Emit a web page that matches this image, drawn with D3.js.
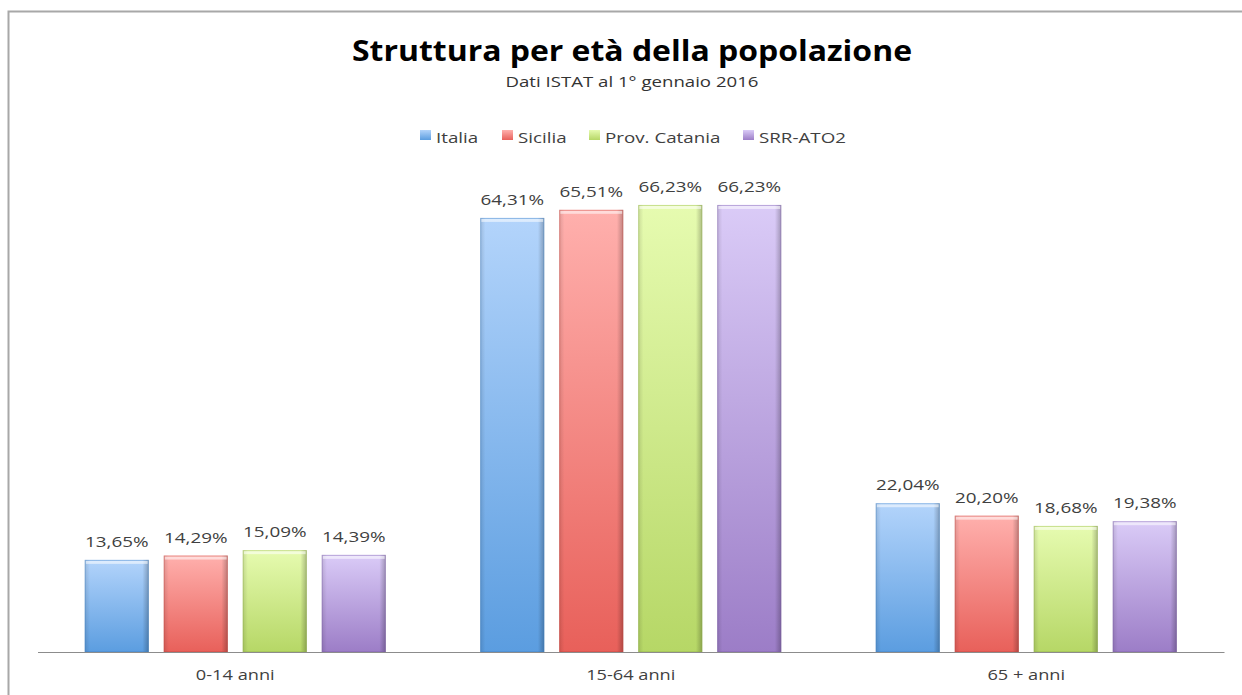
<!DOCTYPE html>
<html><head><meta charset="utf-8">
<script src="https://cdn.jsdelivr.net/npm/d3@7"></script>
<style>body{margin:0;background:#fff;} svg{display:block;}</style>
</head><body>
<svg id="c" width="1242" height="695"></svg>
<script>
const categories = ["0-14 anni", "15-64 anni", "65 + anni"];
const seriesNames = ["Italia", "Sicilia", "Prov. Catania", "SRR-ATO2"];
const italia = [13.65, 64.31, 22.04];
const sicilia = [14.29, 65.51, 20.20];
const catania = [15.09, 66.23, 18.68];
const ato2 = [14.39, 66.23, 19.38];
const seriesValues = [italia, sicilia, catania, ato2];
const topColors = ["#b3d4fb", "#ffb0ad", "#e6fbb0", "#dacbf7"];
const bottomColors = ["#5b9de0", "#e8605a", "#b6d766", "#9c7dc7"];
const edgeColors = ["#3f7fc0", "#c04540", "#8eae4a", "#7a5ea6"];

const svg = d3.select("#c");
const font = "'Open Sans', sans-serif";
function widen(sel, stretch) {
  sel.each(function () {
    const w = this.getComputedTextLength();
    d3.select(this).attr("textLength", w * stretch).attr("lengthAdjust", "spacingAndGlyphs");
  });
  return sel;
}
const defs = svg.append("defs");
seriesNames.forEach((s, i) => {
  const g = defs.append("linearGradient").attr("id", "g" + i).attr("x1", 0).attr("y1", 0).attr("x2", 0).attr("y2", 1);
  g.append("stop").attr("offset", "0%").attr("stop-color", topColors[i]);
  g.append("stop").attr("offset", "100%").attr("stop-color", bottomColors[i]);
});
const eg = defs.append("linearGradient").attr("id", "edge").attr("x1", 0).attr("y1", 0).attr("x2", 1).attr("y2", 0);
eg.append("stop").attr("offset", "0%").attr("stop-color", "#000").attr("stop-opacity", 0.12);
eg.append("stop").attr("offset", "8%").attr("stop-color", "#000").attr("stop-opacity", 0);
eg.append("stop").attr("offset", "90%").attr("stop-color", "#000").attr("stop-opacity", 0);
eg.append("stop").attr("offset", "100%").attr("stop-color", "#000").attr("stop-opacity", 0.25);

// frame
svg.append("path").attr("d", "M8.5,695 V11.5 H1242").attr("fill", "none").attr("stroke", "#a8a8a8").attr("stroke-width", 2);

const baseline = 652;
const x0 = d3.scaleBand().domain(categories).range([37.5, 1224]).paddingInner(0).paddingOuter(0);
const groupW = 301;
const x1 = d3.scaleBand().domain(seriesNames).range([0, groupW]).paddingInner(15 / 79).paddingOuter(0);
const y = d3.scaleLinear().domain([0, 70]).range([baseline, 179.5]);

// title
svg.append("text").attr("x", 632).attr("y", 61).attr("text-anchor", "middle")
  .attr("font-family", font).attr("font-weight", "bold").attr("font-size", 28).attr("fill", "#000")
  .attr("textLength", 560).attr("lengthAdjust", "spacingAndGlyphs")
  .text("Struttura per età della popolazione");
svg.append("text").attr("x", 632).attr("y", 87).attr("text-anchor", "middle")
  .attr("font-family", font).attr("font-size", 15).attr("fill", "#333")
  .attr("textLength", 253).attr("lengthAdjust", "spacingAndGlyphs")
  .text("Dati ISTAT al 1° gennaio 2016");

// legend
const legendX = [420, 502, 589, 743];
const lg = svg.append("g");
seriesNames.forEach((s, i) => {
  lg.append("rect").attr("x", legendX[i]).attr("y", 130).attr("width", 11).attr("height", 10).attr("fill", "url(#g" + i + ")");
  lg.append("text").attr("x", legendX[i] + 16).attr("y", 143).attr("font-family", font).attr("font-size", 15).attr("fill", "#404040").text(s).call(widen, 1.25);
});

// bars
categories.forEach((c, ci) => {
  const gx = x0(c) + (x0.bandwidth() - groupW) / 2;
  seriesNames.forEach((s, si) => {
    const v = seriesValues[si][ci];
    const bx = gx + x1(s), bw = x1.bandwidth(), by = y(v), bh = baseline - y(v);
    svg.append("rect").attr("x", bx).attr("y", by).attr("width", bw).attr("height", bh).attr("fill", "url(#g" + si + ")");
    svg.append("rect").attr("x", bx).attr("y", by).attr("width", bw).attr("height", bh).attr("fill", "url(#edge)");
    svg.append("rect").attr("x", bx + 1).attr("y", by + 1).attr("width", bw - 2).attr("height", 3).attr("fill", "#fff").attr("opacity", 0.55);
    svg.append("rect").attr("x", bx + 0.5).attr("y", by + 0.5).attr("width", bw - 1).attr("height", bh - 1).attr("fill", "none").attr("stroke", edgeColors[si]).attr("stroke-opacity", 0.35);
    svg.append("text").attr("x", bx + bw / 2).attr("y", by - 13).attr("text-anchor", "middle")
      .attr("font-family", font).attr("font-size", 14.5).attr("fill", "#404040")
      .text(v.toFixed(2).replace(".", ",") + "%").call(widen, 1.3);
  });
});

// axis
const axis = svg.append("g").attr("transform", `translate(0,${baseline})`).call(d3.axisBottom(x0).tickSize(0).tickPadding(18));
axis.select(".domain").attr("stroke", "#8c8c8c").attr("stroke-width", 1.2);
axis.selectAll("text").attr("font-family", font).attr("font-size", 14).attr("fill", "#404040").call(widen, 1.3);
</script>
</body></html>
